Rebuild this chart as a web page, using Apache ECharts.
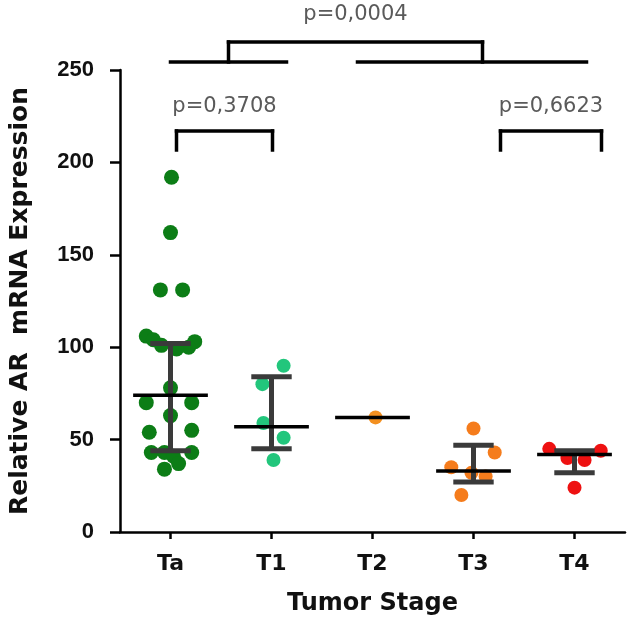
<!DOCTYPE html>
<html><head><meta charset="utf-8">
<script src="https://cdn.jsdelivr.net/npm/echarts@6.0.0/dist/echarts.min.js"></script>
<style>html,body{margin:0;padding:0;background:#fff}#c{width:635px;height:625px}</style>
</head><body><div id="c"></div>
<script>
// ---- data ----
const categories = ['Ta', 'T1', 'T2', 'T3', 'T4'];
const yMin = 0, yMax = 250, yStep = 50;

const taValues  = [192, 162, 131, 131, 106, 104, 101, 103, 100, 99, 78, 70, 70, 63, 54, 55, 43, 43, 43, 41, 37, 34];
const taJitter  = [0.01, 0, -0.1, 0.12, -0.24, -0.17, -0.09, 0.24, 0.18, 0.06, 0, -0.24, 0.21, 0, -0.21, 0.21, -0.19, -0.06, 0.21, 0.03, 0.08, -0.06];
const t1Values  = [90, 80, 59, 51, 39];
const t1Jitter  = [0.12, -0.09, -0.08, 0.12, 0.02];
const t2Values  = [62];
const t2Jitter  = [0.03];
const t3Values  = [56, 43, 35, 32, 30, 20];
const t3Jitter  = [0, 0.21, -0.22, -0.02, 0.12, -0.12];
const t4Values  = [45, 44, 40, 39, 24];
const t4Jitter  = [-0.25, 0.26, -0.07, 0.1, 0];

const medians        = [74, 57, 62, 33, 42];
const lowerQuartiles = [44, 45, null, 27, 32];
const upperQuartiles = [102, 84, null, 47, 44];

const pairTests = [
  { a: 'Ta', b: 'T1', label: 'p=0,3708' },
  { a: 'T3', b: 'T4', label: 'p=0,6623' }
];
const groupTest = { left: ['Ta', 'T1'], right: ['T2', 'T3', 'T4'], label: 'p=0,0004' };

// ---- styling ----
const groupColors = ['#0c7d16', '#22c67c', '#f39020', '#f57c1c', '#ee1111'];
const groups = [
  [taValues, taJitter], [t1Values, t1Jitter], [t2Values, t2Jitter], [t3Values, t3Jitter], [t4Values, t4Jitter]
];

const chart = echarts.init(document.getElementById('c'), null, { renderer: 'canvas' });

const scatterSeries = groups.map(([vals, jit], gi) => ({
  type: 'scatter',
  xAxisIndex: 1,
  yAxisIndex: 0,
  symbolSize: gi === 0 ? 15 : 14,
  itemStyle: { color: groupColors[gi], opacity: 1 },
  z: 2,
  silent: true,
  data: vals.map((v, k) => [gi + jit[k], v])
}));

const barData = categories.map((c, i) => [
  i, medians[i],
  lowerQuartiles[i] == null ? medians[i] : lowerQuartiles[i],
  upperQuartiles[i] == null ? medians[i] : upperQuartiles[i],
  lowerQuartiles[i] == null ? 0 : 1
]);

const errorSeries = {
  type: 'custom',
  xAxisIndex: 1,
  yAxisIndex: 0,
  z: 5,
  silent: true,
  data: barData,
  renderItem(params, api) {
    const i = api.value(0);
    const unit = api.size([1, 0])[0];
    const c = api.coord([i, api.value(1)]);
    const children = [];
    if (api.value(4) === 1) {
      const lo = api.coord([i, api.value(2)]);
      const hi = api.coord([i, api.value(3)]);
      const st = { stroke: '#3a3a3a', lineWidth: 5, lineCap: 'butt' };
      children.push({ type: 'line', shape: { x1: c[0], y1: hi[1], x2: c[0], y2: lo[1] }, style: st });
      children.push({ type: 'line', shape: { x1: c[0] - 0.2 * unit, y1: hi[1], x2: c[0] + 0.2 * unit, y2: hi[1] }, style: st });
      children.push({ type: 'line', shape: { x1: c[0] - 0.2 * unit, y1: lo[1], x2: c[0] + 0.2 * unit, y2: lo[1] }, style: st });
    }
    children.push({ type: 'line', shape: { x1: c[0] - 0.37 * unit, y1: c[1], x2: c[0] + 0.37 * unit, y2: c[1] },
      style: { stroke: '#000', lineWidth: 3.5 } });
    return { type: 'group', children };
  }
};

const bracketSeries = {
  type: 'custom',
  xAxisIndex: 1,
  yAxisIndex: 0,
  z: 6,
  silent: true,
  clip: false,
  data: [[0, 0]],
  renderItem(params, api) {
    const top = api.coord([0, yMax])[1];
    const cx = name => api.coord([categories.indexOf(name), 0])[0];
    const ls = { stroke: '#000', lineWidth: 3.5, lineCap: 'square' };
    const txt = { fontSize: 21, fontFamily: 'DejaVu Sans', fill: '#5a5a5a', align: 'center', verticalAlign: 'middle' };
    const ch = [];
    const L = l => ch.push({ type: 'line', shape: l, style: ls });
    // group comparison
    const lx1 = cx(groupTest.left[0]), lx2 = cx(groupTest.left[groupTest.left.length - 1]) + 15;
    const rx1 = cx(groupTest.right[0]) - 15, rx2 = cx(groupTest.right[groupTest.right.length - 1]) + 12;
    const yLow = top - 8, yHigh = top - 28;
    const ux1 = (lx1 + lx2) / 2, ux2 = cx(groupTest.right[1]) + 9;
    L({ x1: lx1, y1: yLow, x2: lx2, y2: yLow });
    L({ x1: rx1, y1: yLow, x2: rx2, y2: yLow });
    L({ x1: ux1, y1: yHigh, x2: ux2, y2: yHigh });
    L({ x1: ux1, y1: yHigh, x2: ux1, y2: yLow });
    L({ x1: ux2, y1: yHigh, x2: ux2, y2: yLow });
    ch.push({ type: 'text', style: Object.assign({ text: groupTest.label, x: (ux1 + ux2) / 2, y: top - 55 }, txt) });
    // pair comparisons
    const shifts = [[6, 1], [27, 27]];
    pairTests.forEach((t, k) => {
      const x1 = cx(t.a) + shifts[k][0], x2 = cx(t.b) + shifts[k][1];
      const yb = top + 61, ye = top + 80;
      L({ x1: x1, y1: yb, x2: x2, y2: yb });
      L({ x1: x1, y1: yb, x2: x1, y2: ye });
      L({ x1: x2, y1: yb, x2: x2, y2: ye });
      ch.push({ type: 'text', style: Object.assign({ text: t.label, x: (x1 + x2) / 2, y: top + 37 }, txt) });
    });
    return { type: 'group', children: ch };
  }
};

const option = {
  animation: false,
  backgroundColor: '#fff',
  grid: { left: 112, right: 10, top: 70, bottom: 93, containLabel: false },
  xAxis: [
    {
      type: 'category',
      data: categories,
      boundaryGap: true,
      axisLine: { show: true, onZero: false, lineStyle: { color: '#000', width: 2.5 } },
      axisTick: { show: true, alignWithLabel: true, length: 7, lineStyle: { color: '#000', width: 2.5 } },
      axisLabel: { margin: 21, color: '#111', fontSize: 22, fontWeight: 'bold', fontFamily: 'DejaVu Sans' },
      splitLine: { show: false },
      name: 'Tumor Stage',
      nameLocation: 'middle',
      nameGap: 60,
      nameTextStyle: { color: '#111', fontSize: 24, fontWeight: 'bold', fontFamily: 'DejaVu Sans' }
    },
    { type: 'value', min: -0.5, max: 4.5, show: false }
  ],
  yAxis: {
    type: 'value',
    min: yMin, max: yMax, interval: yStep,
    axisLine: { show: true, onZero: false, lineStyle: { color: '#000', width: 2.5 } },
    axisTick: { show: true, inside: false, length: 10, lineStyle: { color: '#000', width: 2.5 } },
    axisLabel: { margin: 26, color: '#111', fontSize: 22, fontWeight: 'bold', fontFamily: 'Liberation Sans' },
    splitLine: { show: false },
    name: 'Relative AR  mRNA Expression',
    nameLocation: 'middle',
    nameGap: 87,
    nameTextStyle: { color: '#111', fontSize: 25, fontWeight: 'bold', fontFamily: 'DejaVu Sans' }
  },
  series: scatterSeries.concat([errorSeries, bracketSeries])
};
chart.setOption(option);
</script>
</body></html>
